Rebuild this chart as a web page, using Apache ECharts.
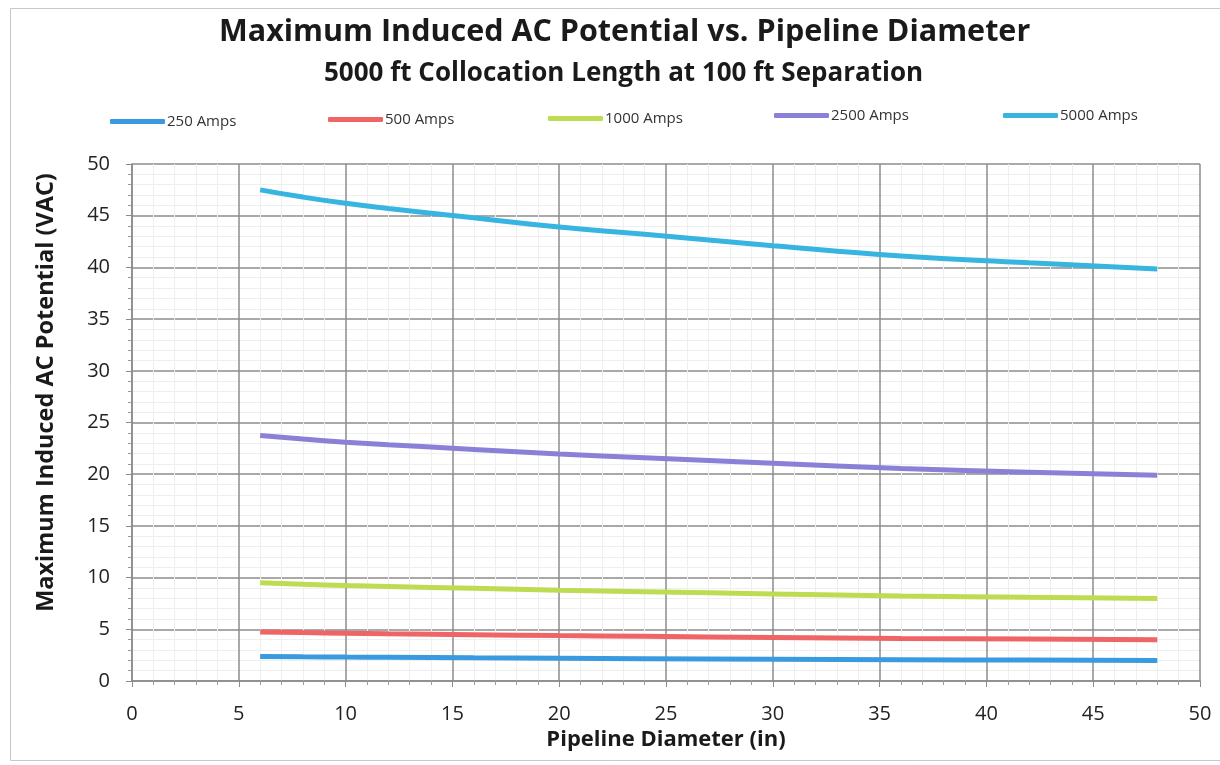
<!DOCTYPE html>
<html>
<head>
<meta charset="utf-8">
<script src="https://cdn.jsdelivr.net/npm/echarts@6/dist/echarts.min.js"></script>
<style>
html,body{margin:0;padding:0;background:#fff;}
#chart{width:1220px;height:765px;}
</style>
</head>
<body>
<div id="chart"></div>
<script>
const diameters = [6, 8, 10, 12, 16, 20, 24, 30, 36, 42, 48];
const seriesNames = ['250 Amps', '500 Amps', '1000 Amps', '2500 Amps', '5000 Amps'];
const amps250  = [2.38, 2.34, 2.31, 2.29, 2.24, 2.20, 2.16, 2.11, 2.06, 2.02, 1.99];
const amps500  = [4.75, 4.68, 4.62, 4.57, 4.48, 4.39, 4.32, 4.21, 4.11, 4.05, 3.99];
const amps1000 = [9.50, 9.36, 9.24, 9.14, 8.96, 8.78, 8.64, 8.42, 8.22, 8.09, 7.97];
const amps2500 = [23.75, 23.4, 23.1, 22.85, 22.4, 21.95, 21.6, 21.05, 20.55, 20.2, 19.9];
const amps5000 = [47.5, 46.8, 46.2, 45.7, 44.8, 43.9, 43.2, 42.1, 41.1, 40.45, 39.85];
const xTicks = [0, 5, 10, 15, 20, 25, 30, 35, 40, 45, 50];
const yTicks = [0, 5, 10, 15, 20, 25, 30, 35, 40, 45, 50];

const values = [amps250, amps500, amps1000, amps2500, amps5000];
const colors = ['#3a9ae0', '#ef6464', '#bddc52', '#8a80d8', '#38b4e0'];
const legendPos = [[110, 114], [328, 112], [548, 111], [774, 108], [1003, 108]];
const FONT = '"Open Sans", Lato, sans-serif';

const chart = echarts.init(document.getElementById('chart'), null, {renderer: 'canvas'});

const series = seriesNames.map((name, i) => ({
  name: name,
  type: 'line',
  smooth: true,
  symbol: 'none',
  data: diameters.map((d, j) => [d, values[i][j]]),
  lineStyle: {color: colors[i], width: 5},
  itemStyle: {color: colors[i]},
  z: 3
}));

const legends = seriesNames.map((name, i) => ({
  data: [name],
  left: legendPos[i][0],
  top: legendPos[i][1],
  icon: 'roundRect',
  itemWidth: 55,
  itemHeight: 5,
  padding: 0,
  textStyle: {fontFamily: FONT, fontSize: 15, color: '#333', padding: [0, 0, 0, -3]}
}));

chart.setOption({
  backgroundColor: '#ffffff',
  animation: false,
  title: [
    {
      text: 'Maximum Induced AC Potential vs. Pipeline Diameter',
      left: 214, top: 12,
      textStyle: {fontFamily: FONT, fontWeight: 'bold', fontSize: 30.5, color: '#1a1a1a'}
    },
    {
      text: '5000 ft Collocation Length at 100 ft Separation',
      left: 319, top: 56,
      textStyle: {fontFamily: FONT, fontWeight: 'bold', fontSize: 26, color: '#1a1a1a'}
    }
  ],
  legend: legends,
  graphic: [{
    type: 'rect', left: 8, top: 6, silent: true,
    shape: {width: 1240, height: 752},
    style: {fill: 'none', stroke: '#c8c8c8', lineWidth: 1}
  }],
  grid: {left: 132, right: 20, top: 164, bottom: 84, containLabel: false},
  xAxis: {
    type: 'value', min: xTicks[0], max: xTicks[xTicks.length - 1], interval: 5,
    name: 'Pipeline Diameter (in)', nameLocation: 'middle', nameGap: 42,
    nameTextStyle: {fontFamily: FONT, fontWeight: 'bold', fontSize: 22, color: '#1a1a1a'},
    axisLine: {show: true, onZero: false, lineStyle: {color: '#8a8a8a', width: 1.5}},
    axisTick: {show: true, length: 6, lineStyle: {color: '#8a8a8a'}},
    minorTick: {show: true, splitNumber: 5, length: 4, lineStyle: {color: '#9a9a9a'}},
    axisLabel: {fontFamily: FONT, fontSize: 20, color: '#222', margin: 23},
    splitLine: {show: true, lineStyle: {color: '#8c8c8c', width: 1.5}},
    minorSplitLine: {show: true, lineStyle: {color: '#efefef', width: 1}}
  },
  yAxis: {
    type: 'value', min: yTicks[0], max: yTicks[yTicks.length - 1], interval: 5,
    name: 'Maximum Induced AC Potential (VAC)', nameLocation: 'middle', nameGap: 74,
    nameTextStyle: {fontFamily: FONT, fontWeight: 'bold', fontSize: 23.5, color: '#1a1a1a', padding: [0, 0, 0, 60]},
    axisLine: {show: true, lineStyle: {color: '#8a8a8a', width: 1.5}},
    axisTick: {show: true, length: 6, lineStyle: {color: '#8a8a8a'}},
    minorTick: {show: true, splitNumber: 5, length: 4, lineStyle: {color: '#9a9a9a'}},
    axisLabel: {fontFamily: FONT, fontSize: 20, color: '#222', margin: 22},
    splitLine: {show: true, lineStyle: {color: '#8c8c8c', width: 1.5}},
    minorSplitLine: {show: true, lineStyle: {color: '#efefef', width: 1}}
  },
  series: series
});
</script>
</body>
</html>
